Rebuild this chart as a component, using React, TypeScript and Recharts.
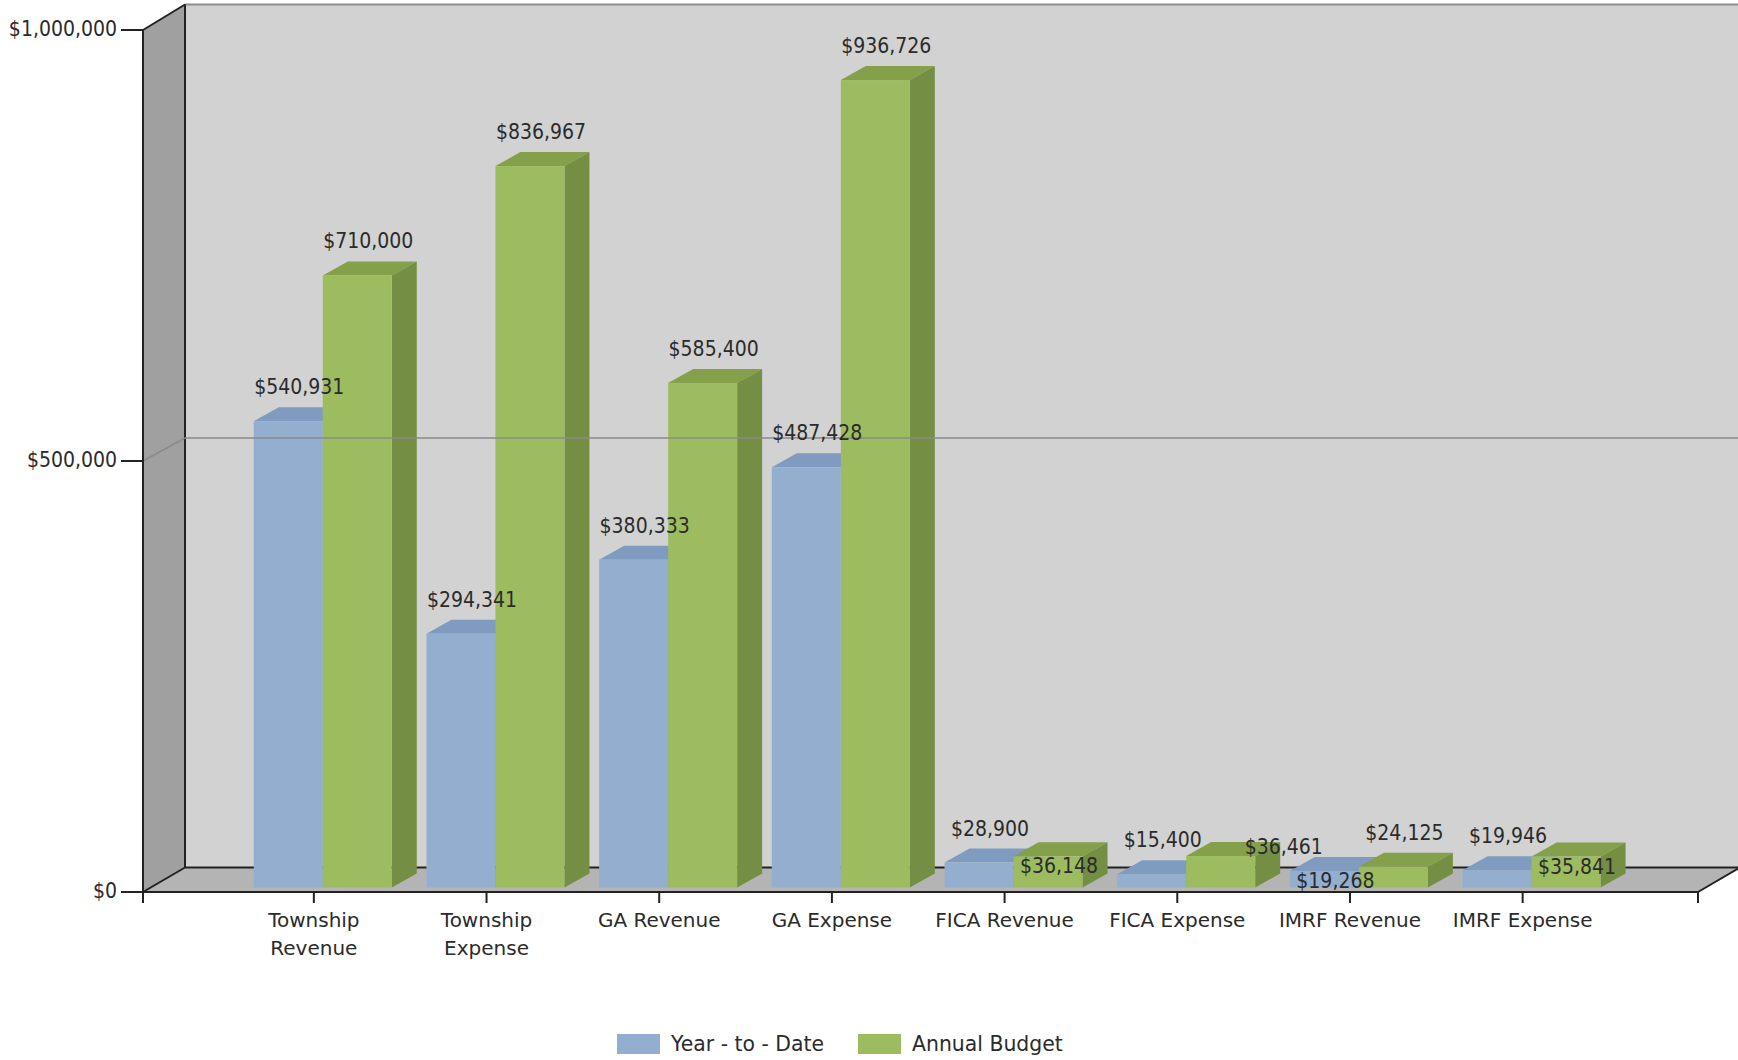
import { Bar, BarChart, LabelList, Legend, ReferenceLine, XAxis, YAxis, usePlotArea } from "recharts";

const categories = [
  "Township Revenue",
  "Township Expense",
  "GA Revenue",
  "GA Expense",
  "FICA Revenue",
  "FICA Expense",
  "IMRF Revenue",
  "IMRF Expense",
];
const yearToDate = [540931, 294341, 380333, 487428, 28900, 15400, 19268, 19946];
const annualBudget = [710000, 836967, 585400, 936726, 36148, 36461, 24125, 35841];
const yTicks = [0, 500000, 1000000];

const data = categories.map((name, i) => ({ name, ytd: yearToDate[i], budget: annualBudget[i] }));

const FONT = "'DejaVu Sans', sans-serif";
const LABEL_FONT = "'DejaVu Sans Condensed', 'DejaVu Sans', sans-serif";
const TEXT = "#2b2b2b";

// depth of the room and of the boxes standing in it
const ROOM_DX = 42;
const ROOM_TOP_DY = 25.5;
const ROOM_FLOOR_DY = 24.5;
const GRID_DY = 23;
const BOX_DX = 25;
const BOX_DY = 14;
const BOX_SHIFT_X = 9;
const BOX_SHIFT_Y = -4.5;

// the chart moved these labels out of each other's way
const ytdNudge: Record<number, [number, number]> = { 6: [0, 44] };
const budgetNudge: Record<number, [number, number]> = { 4: [0, 44], 5: [52, 25], 7: [0, 44] };

const money = (v: number) => "$" + v.toLocaleString("en-US");

function Room() {
  const plot = usePlotArea();
  if (!plot) return null;
  const l = plot.x;
  const r = plot.x + plot.width;
  const t = plot.y;
  const b = plot.y + plot.height;
  const backL = l + ROOM_DX;
  const backR = r + ROOM_DX;
  const backT = t - ROOM_TOP_DY;
  const backB = b - ROOM_FLOOR_DY;
  return (
    <g>
      <rect x={backL} y={backT} width={backR - backL} height={backB - backT} fill="#d2d2d2" />
      <polygon points={`${l},${t} ${backL},${backT} ${backL},${backB} ${l},${b}`} fill="#a0a0a0" />
      <polygon points={`${l},${b} ${backL},${backB} ${backR},${backB} ${r},${b}`} fill="#b4b4b4" />
      <line x1={backL} y1={backT} x2={backR} y2={backT} stroke="#8c8c8c" strokeWidth={2} />
      <line x1={l} y1={t} x2={backL} y2={backT} stroke="#222" strokeWidth={2} />
      <line x1={backL} y1={backT} x2={backL} y2={backB} stroke="#222" strokeWidth={2} />
      <line x1={l} y1={b} x2={backL} y2={backB} stroke="#222" strokeWidth={2} />
      <line x1={backL} y1={backB} x2={backR} y2={backB} stroke="#222" strokeWidth={2} />
      <line x1={r} y1={b} x2={backR} y2={backB} stroke="#222" strokeWidth={2} />
      <line x1={l} y1={b} x2={l} y2={b + 11} stroke="#222" strokeWidth={2} />
      <line x1={r} y1={b} x2={r} y2={b + 11} stroke="#222" strokeWidth={2} />
    </g>
  );
}

function box(top: string, side: string) {
  return (props: any) => {
    const x = props.x + BOX_SHIFT_X;
    const y = props.y + BOX_SHIFT_Y;
    const w = props.width;
    const h = props.height;
    return (
      <g>
        <polygon
          points={`${x},${y} ${x + BOX_DX},${y - BOX_DY} ${x + w + BOX_DX},${y - BOX_DY} ${x + w},${y}`}
          fill={top}
        />
        <polygon
          points={`${x + w},${y} ${x + w + BOX_DX},${y - BOX_DY} ${x + w + BOX_DX},${y + h - BOX_DY} ${x + w},${y + h}`}
          fill={side}
        />
        <rect x={x} y={y} width={w} height={h} fill={props.fill} />
      </g>
    );
  };
}

function valueLabel(nudge: Record<number, [number, number]>) {
  return (props: any) => {
    const [dx, dy] = nudge[props.index] ?? [0, 0];
    return (
      <text
        x={props.x + props.width / 2 + 20 + dx}
        y={props.y - 38.5 + dy}
        textAnchor="middle"
        dominantBaseline="central"
        fontFamily={LABEL_FONT}
        fontSize={21}
        fill={TEXT}
      >
        {money(props.value)}
      </text>
    );
  };
}

function BackLine(props: any) {
  const { x1, x2, y1 } = props;
  return (
    <polyline
      points={`${x1},${y1} ${x1 + ROOM_DX},${y1 - GRID_DY} ${x2 + ROOM_DX},${y1 - GRID_DY}`}
      fill="none"
      stroke="#8a8a8a"
      strokeWidth={1.5}
    />
  );
}

function CategoryTick({ x, y, payload }: any) {
  const name: string = payload.value;
  // only the two long Township names go on two lines
  const lines = name.length > 13 ? name.split(" ") : [name];
  return (
    <text x={x} y={y + 15.5} textAnchor="middle" fontFamily={FONT} fontSize={20} fill={TEXT}>
      {lines.map((line, i) => (
        <tspan key={line} x={x} dy={i === 0 ? 0 : 28}>
          {line}
        </tspan>
      ))}
    </text>
  );
}

function LegendRow({ payload }: any) {
  return (
    <div style={{ display: "flex", alignItems: "center", fontFamily: FONT, fontSize: 20.4, color: TEXT }}>
      {payload.map((item: any) => (
        <div key={item.value} style={{ display: "flex", alignItems: "center", marginRight: 34 }}>
          <span style={{ width: 43, height: 20, background: item.color, marginRight: 11 }} />
          {item.value}
        </div>
      ))}
    </div>
  );
}

export default function App() {
  return (
    <div style={{ position: "absolute", left: 0, top: 0, width: 1738, height: 1060, background: "#fff", overflow: "hidden" }}>
      <BarChart
        width={1738}
        height={1060}
        data={data}
        margin={{ top: 30, right: 40, bottom: 0, left: 0 }}
        barCategoryGap="10%"
        barGap={0}
      >
        <Room />
        <XAxis
          dataKey="name"
          interval={0}
          height={168}
          padding={{ left: 84.5, right: 89 }}
          axisLine={{ stroke: "#222", strokeWidth: 2 }}
          tickLine={{ stroke: "#222", strokeWidth: 2 }}
          tickSize={11}
          tickMargin={8}
          tick={<CategoryTick />}
        />
        <YAxis
          width={143}
          domain={[0, 1000000]}
          ticks={yTicks}
          interval={0}
          axisLine={{ stroke: "#222", strokeWidth: 2 }}
          tickLine={{ stroke: "#222", strokeWidth: 2 }}
          tickSize={22}
          tickMargin={4}
          tickFormatter={money}
          tick={{ fontFamily: LABEL_FONT, fontSize: 21, fill: TEXT, dy: -1 }}
        />
        <ReferenceLine y={500000} shape={BackLine} />
        <Bar dataKey="ytd" name="Year - to - Date" fill="#93aecf" shape={box("#7f9bbf", "#6f8aae")} isAnimationActive={false}>
          <LabelList dataKey="ytd" content={valueLabel(ytdNudge)} />
        </Bar>
        <Bar dataKey="budget" name="Annual Budget" fill="#9dbc5f" shape={box("#84a04a", "#748f43")} isAnimationActive={false}>
          <LabelList dataKey="budget" content={valueLabel(budgetNudge)} />
        </Bar>
        <Legend
          layout="horizontal"
          align="center"
          verticalAlign="middle"
          itemSorter={null}
          content={<LegendRow />}
          wrapperStyle={{ left: 617, top: 1032, width: 600 }}
        />
      </BarChart>
    </div>
  );
}
